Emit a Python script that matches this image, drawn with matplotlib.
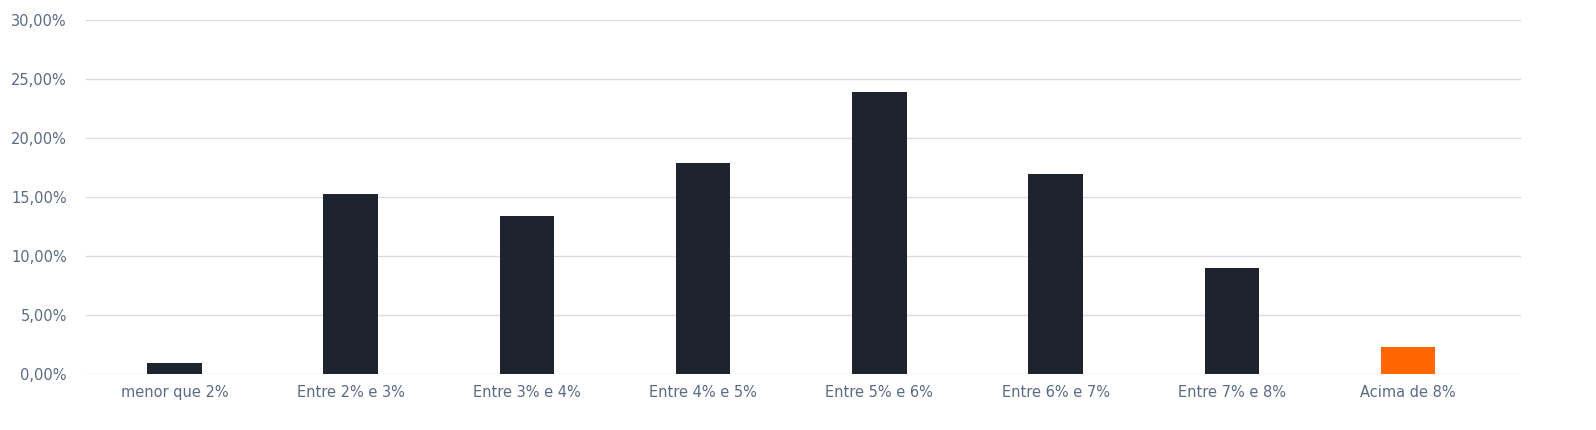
import matplotlib
matplotlib.use("Agg")
import matplotlib.pyplot as plt
from matplotlib.ticker import FuncFormatter

categories = ["menor que 2%", "Entre 2% e 3%", "Entre 3% e 4%", "Entre 4% e 5%",
              "Entre 5% e 6%", "Entre 6% e 7%", "Entre 7% e 8%", "Acima de 8%"]
values = [0.93, 15.25, 13.4, 17.9, 23.9, 17.0, 9.0, 2.3]
colors = ["#1e242d"] * 7 + ["#ff6600"]

fig = plt.figure(figsize=(15.96, 4.30), dpi=100)
ax = fig.add_axes([0.054, 0.13, 0.899, 0.823])
x = range(len(categories))
ax.bar(x, values, width=0.31, color=colors, zorder=3)
ax.set_ylim(0, 30)
ax.set_xlim(-0.5, len(categories) - 0.36)
ax.set_yticks(range(0, 31, 5))
ax.yaxis.set_major_formatter(FuncFormatter(lambda v, p: f"{v:.2f}%".replace(".", ",")))
ax.set_xticks(list(x))
ax.set_xticklabels(categories)
ax.grid(axis="y", color="#d9dce6", linewidth=1, zorder=0)
for s in ax.spines.values():
    s.set_visible(False)
ax.tick_params(length=0, colors="#5a6b85", labelsize=10.5)
ax.tick_params(axis="x", pad=8)
ax.tick_params(axis="y", pad=14)
fig.savefig("out.png", dpi=100, facecolor="white")
